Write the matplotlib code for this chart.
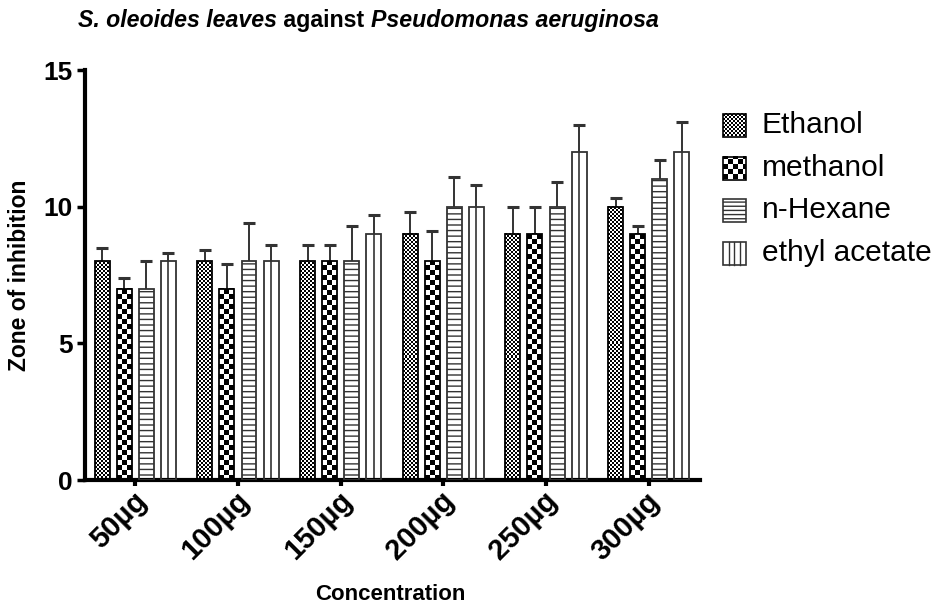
import numpy as np
import matplotlib
matplotlib.use("Agg")
import matplotlib.pyplot as plt
from matplotlib.patches import Rectangle
from matplotlib.transforms import ScaledTranslation

plt.rcParams['font.family'] = ['Liberation Sans', 'DejaVu Sans']
plt.rcParams['hatch.linewidth'] = 1.0

concentrations = ["50µg", "100µg", "150µg", "200µg", "250µg", "300µg"]
solvents = ["Ethanol", "methanol", "n-Hexane", "ethyl acetate"]

ethanol = [8, 8, 8, 9, 9, 10]
methanol = [7, 7, 8, 8, 9, 9]
hexane = [7, 8, 8, 10, 10, 11]
ethyl_acetate = [8, 8, 9, 10, 12, 12]

ethanol_err = [0.5, 0.4, 0.6, 0.8, 1.0, 0.3]
methanol_err = [0.4, 0.9, 0.6, 1.1, 1.0, 0.3]
hexane_err = [1.0, 1.4, 1.3, 1.1, 0.9, 0.7]
ethyl_acetate_err = [0.3, 0.6, 0.7, 0.8, 1.0, 1.1]

yticks = [0, 5, 10, 15]

W, H = 938, 606
fig = plt.figure(figsize=(W / 100, H / 100), dpi=100)
ax = fig.add_axes([85 / W, 1 - 480 / H, 615 / W, 410 / H])
ax.set_xlim(-0.49, 5.5)
ax.set_ylim(0, 15)
ax.set_autoscale_on(False)

values = [ethanol, methanol, hexane, ethyl_acetate]
errors = [ethanol_err, methanol_err, hexane_err, ethyl_acetate_err]
styles = ["fine", "checker", "hlines", "vline"]

x = np.arange(len(concentrations))
step = 0.2146
width = 0.146
offsets = (np.arange(4) - 1.5) * step
edge = "#333333"


def checker_image(wpx, hpx, cell):
    nx = max(1, int(round(wpx)))
    ny = max(1, int(round(hpx)))
    ix = np.arange(nx)[None, :] // cell
    iy = np.arange(ny)[:, None] // cell
    return ((ix + iy) % 2).astype(float)


for k, (vals, errs, style) in enumerate(zip(values, errors, styles)):
    pos = x + offsets[k]
    hatch = "---" if style == "hlines" else None
    ax.bar(pos, vals, width, color="white", edgecolor=edge if style == "hlines" else "none",
           hatch=hatch, linewidth=0, zorder=1)
    if style in ("fine", "checker"):
        cell = 2 if style == "fine" else 5
        for p, v in zip(pos, vals):
            x0, x1 = p - width / 2, p + width / 2
            (px0, py0), (px1, py1) = ax.transData.transform([(x0, 0), (x1, v)])
            img = checker_image(px1 - px0, py1 - py0, cell)
            ax.imshow(img, extent=[x0, x1, 0, v], origin="lower", cmap="gray",
                      vmin=0, vmax=1, interpolation="nearest", aspect="auto", zorder=2)
    if style == "vline":
        ax.vlines(pos, 0, vals, color=edge, linewidth=1.2, zorder=2)
    ax.bar(pos, vals, width, fill=False,
           edgecolor="black" if style in ("fine", "checker") else edge,
           linewidth=1.3, zorder=3)
    eb = ax.errorbar(pos, vals, yerr=[np.zeros(len(vals)), errs], fmt="none",
                     ecolor=edge, elinewidth=1.4, capsize=4, capthick=2.2, zorder=2.5)
    for cl in eb[1]:
        if np.allclose(cl.get_ydata(), vals):
            cl.set_visible(False)

ax.set_xlim(-0.49, 5.5)
ax.set_ylim(0, 15)

for side in ("top", "right"):
    ax.spines[side].set_visible(False)
for side in ("left", "bottom"):
    ax.spines[side].set_linewidth(3)
    ax.spines[side].set_capstyle("projecting")

ax.set_yticks(yticks)
ax.set_yticklabels([str(t) for t in yticks], fontsize=19, fontweight="bold")
ax.tick_params(axis="y", length=6, width=2.5, pad=3)
ax.set_xticks(x)
ax.set_xticklabels(concentrations, fontsize=21, fontweight="bold", rotation=45,
                   ha="right", va="center", rotation_mode="anchor")
ax.tick_params(axis="x", length=4, width=3, pad=8)
shift = ScaledTranslation(7 / 100, 0, fig.dpi_scale_trans)
for lbl in ax.get_xticklabels():
    lbl.set_transform(lbl.get_transform() + shift)

ax.set_xlabel("Concentration", fontsize=16, fontweight="bold")
ax.xaxis.set_label_coords(0.497, -(594 - 480) / 410)
ax.xaxis.label.set_va("center")
ax.set_ylabel("Zone of inhibition", fontsize=16.5, fontweight="bold")
ax.yaxis.set_label_coords(-(85 - 20) / 615, 0.5)
ax.yaxis.label.set_va("center")

# Title with mixed italic / upright bold pieces
pieces = [("S. oleoides leaves", "italic"), (" against ", "normal"),
          ("Pseudomonas aeruginosa", "italic")]
renderer = fig.canvas.get_renderer()
cx = 78
for txt, st in pieces:
    t = fig.text(cx / W, 1 - 27 / H, txt, fontsize=16.7, fontweight="bold", style=st,
                 ha="left", va="baseline")
    bb = t.get_window_extent(renderer=renderer)
    cx += bb.width

# Legend drawn in its own pixel-unit axes
lax = fig.add_axes([715 / W, 1 - 280 / H, 223 / W, 180 / H])
lax.set_xlim(715, 938)
lax.set_ylim(280, 100)
lax.axis("off")
sq = 23
row_y = [125, 168, 210, 253]
for k, (name, style) in enumerate(zip(solvents, styles)):
    cy = row_y[k]
    x0, y0 = 723, cy - sq / 2
    if style in ("fine", "checker"):
        cell = 2 if style == "fine" else 5
        img = checker_image(sq, sq, cell)
        lax.imshow(img, extent=[x0, x0 + sq, y0 + sq, y0], origin="lower", cmap="gray",
                   vmin=0, vmax=1, interpolation="nearest", aspect="auto", zorder=2)
        lax.add_patch(Rectangle((x0, y0), sq, sq, fill=False, edgecolor="black",
                                linewidth=1.2, zorder=3))
    elif style == "hlines":
        lax.add_patch(Rectangle((x0, y0), sq, sq, facecolor="white", edgecolor=edge,
                                hatch="----", linewidth=1.2, zorder=3))
    else:
        lax.add_patch(Rectangle((x0, y0), sq, sq, facecolor="white", edgecolor=edge,
                                linewidth=1.2, zorder=3))
        for f in (0.25, 0.5, 0.75):
            lax.plot([x0 + f * sq] * 2, [y0, y0 + sq], color=edge, linewidth=1.0, zorder=3)
    lax.text(762, cy, name, fontsize=21.5, va="center", ha="left")
lax.set_xlim(715, 938)
lax.set_ylim(280, 100)

fig.savefig("out.png", dpi=100)
